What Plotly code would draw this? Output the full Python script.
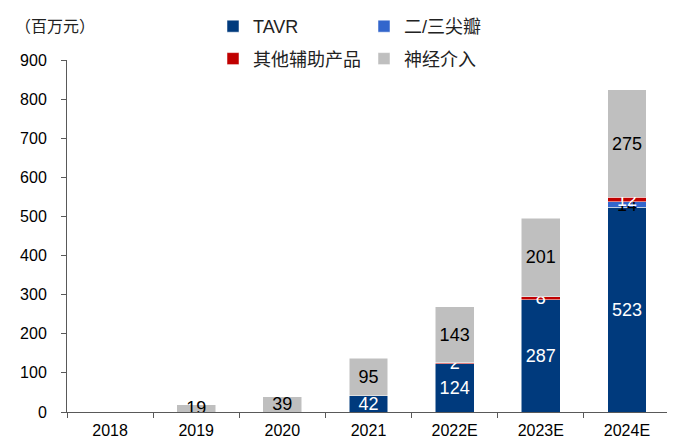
import plotly.graph_objects as go

years = ["2018", "2019", "2020", "2021", "2022E", "2023E", "2024E"]
tavr = [0, 0, 0, 42, 124, 287, 523]
mitral_tricuspid = [0, 0, 0, 0, 0, 0, 14]
other_aux = [0, 0, 0, 0, 2, 8, 12]
neuro = [0, 19, 39, 95, 143, 201, 275]
y_ticks = [0, 100, 200, 300, 400, 500, 600, 700, 800, 900]

# page body has an 8px default margin; size the figure to fit the window
OFF = 8
WIN_W, WIN_H = 675, 438
W, H = WIN_W - OFF, WIN_H - OFF
# plot area in window pixels: x 67..670, y 60..412
L, T = 67 - OFF, 60 - OFF
R = W - (670 - OFF)
B = H - (412 - OFF)
pw, ph = W - L - R, H - T - B

def px_x(xw):
    return (xw - OFF - L) / pw

def px_y(yw):
    return (H - B - (yw - OFF)) / ph

LAT = "Liberation Sans, Arial, Noto Sans CJK SC"

def lab(vals):
    return [str(v) if v else "" for v in vals]

series = [
    ("TAVR", tavr, "#003A7D", "white", "legend", "g1"),
    ("二/三尖瓣", mitral_tricuspid, "#3366CC", "black", "legend2", "g2"),
    ("其他辅助产品", other_aux, "#C00000", "white", "legend", "g3"),
    ("神经介入", neuro, "#BFBFBF", "black", "legend2", "g4"),
]

fig = go.Figure()
for name, vals, color, tcolor, leg, grp in series:
    fig.add_trace(go.Bar(
        x=years, y=vals, name=name,
        marker=dict(color=color, line=dict(color="white", width=0.5)),
        text=lab(vals), textposition="inside", insidetextanchor="middle",
        textangle=0, constraintext="none",
        textfont=dict(family=LAT, size=18, color=tcolor),
        legend=leg, legendgroup=grp, hoverinfo="skip",
    ))

legend_common = dict(
    orientation="v", yanchor="top", xanchor="left",
    font=dict(family=LAT, size=18, color="#222"),
    bgcolor="rgba(0,0,0,0)", borderwidth=0, tracegroupgap=6,
    itemclick=False, itemdoubleclick=False, traceorder="grouped",
)

fig.update_layout(
    width=W, height=H,
    margin=dict(l=L, r=R, t=T, b=B, pad=0, autoexpand=False),
    barmode="stack", bargap=0.55,
    plot_bgcolor="white", paper_bgcolor="white",
    font=dict(family=LAT, size=16, color="#000"),
    legend=dict(x=px_x(213), y=px_y(8), **legend_common),
    legend2=dict(x=px_x(364), y=px_y(8), **legend_common),
    xaxis=dict(
        type="category", categoryorder="array", categoryarray=years,
        showline=True, linecolor="#595959", linewidth=1,
        ticks="outside", ticklen=5, tickcolor="#595959", tickson="boundaries",
        ticklabelstandoff=4, automargin=False,
        tickfont=dict(family=LAT, size=16, color="#000"),
        showgrid=False, zeroline=False, fixedrange=True,
    ),
    yaxis=dict(
        range=[0, 900], tickvals=y_ticks, ticktext=[str(v) for v in y_ticks],
        showline=True, linecolor="#595959", linewidth=1,
        ticks="outside", ticklen=5, tickcolor="#595959",
        ticklabelstandoff=11, automargin=False,
        tickfont=dict(family=LAT, size=16, color="#000"),
        showgrid=False, zeroline=False, fixedrange=True,
    ),
    annotations=[dict(
        text="（百万元）", xref="paper", yref="paper",
        x=px_x(13), y=px_y(25), xanchor="left", yanchor="middle",
        showarrow=False, font=dict(family="Noto Sans CJK SC", size=16, color="#222"),
    )],
)

fig.write_html("out.html")
